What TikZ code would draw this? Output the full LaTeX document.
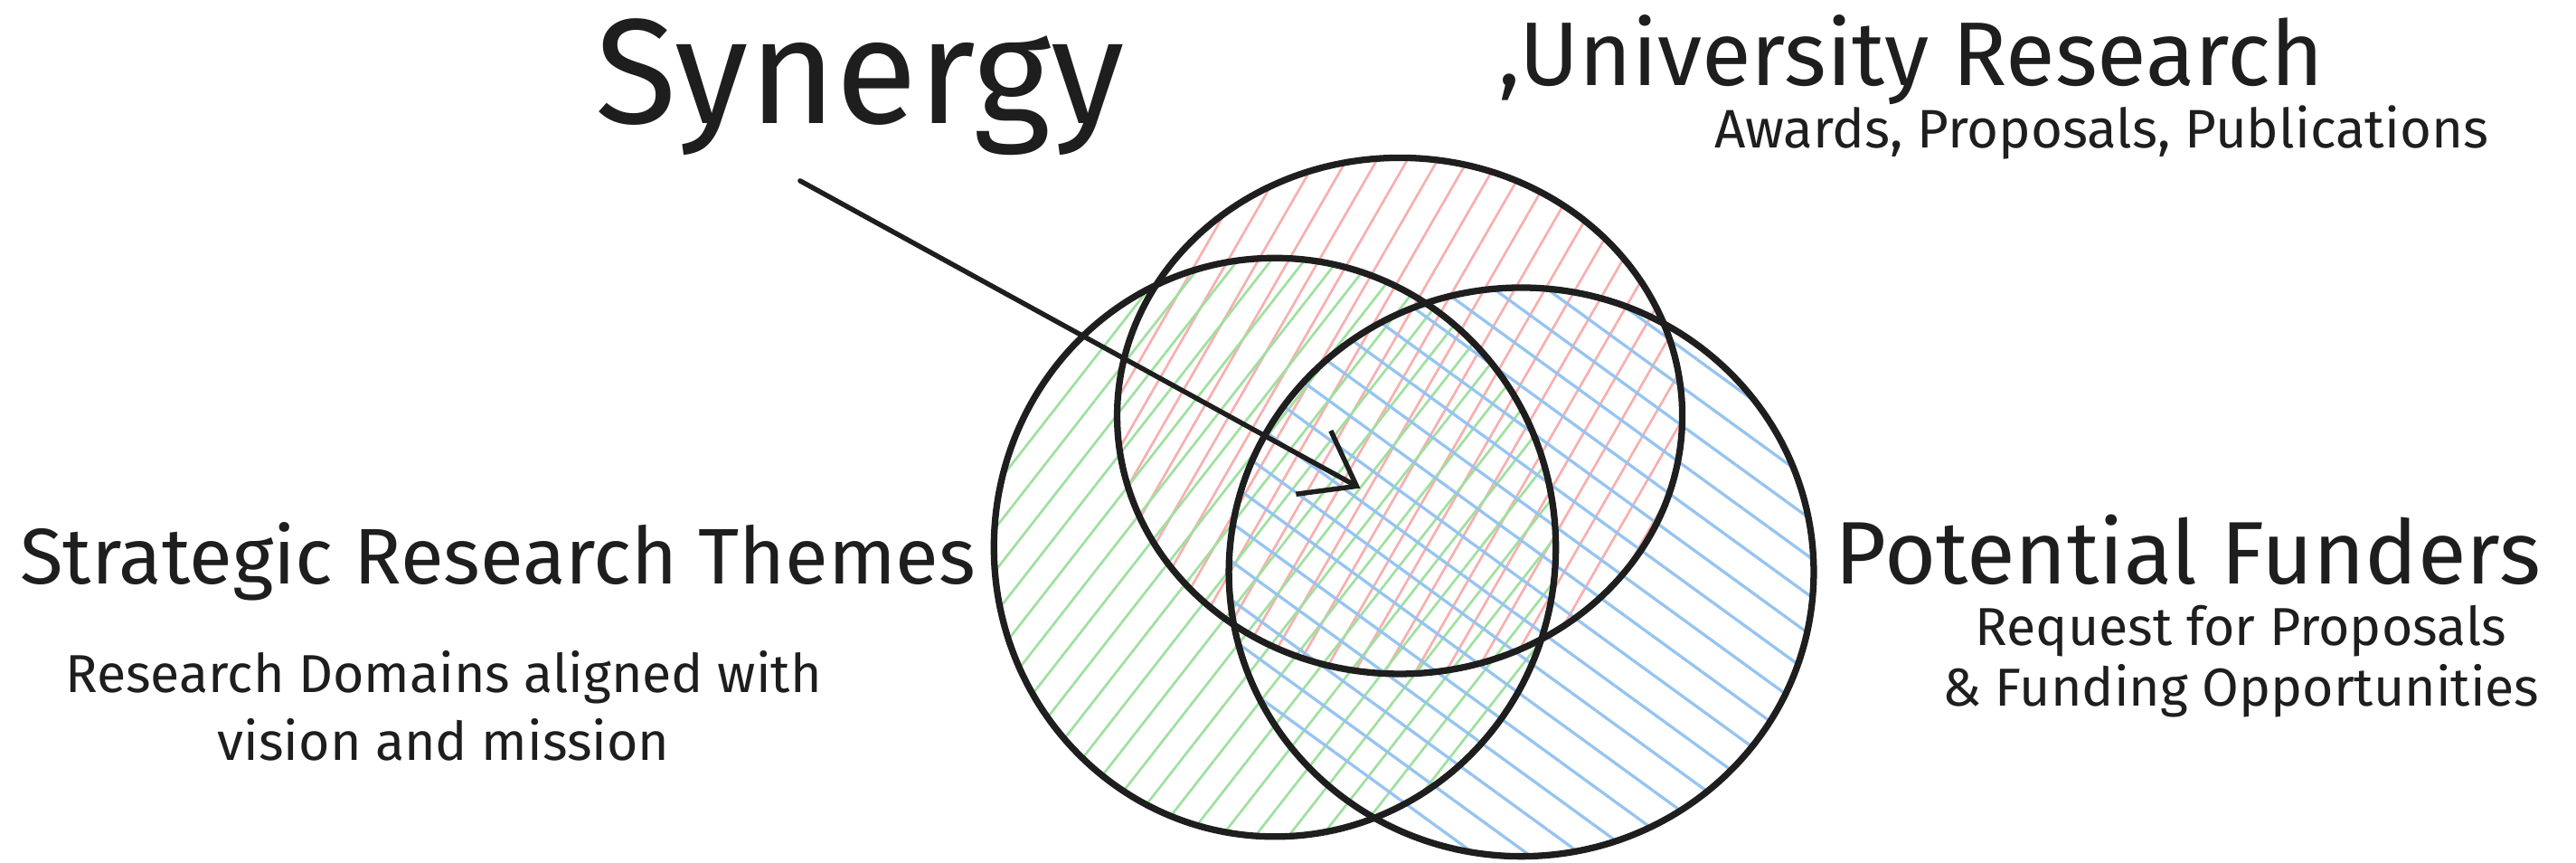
\documentclass[tikz,border=0pt]{standalone}
\usepackage{fontspec}
\setmainfont{Fira Sans}
\usetikzlibrary{arrows.meta,patterns.meta}
\definecolor{ink}{RGB}{30,30,30}
\definecolor{hatchred}{RGB}{246,176,176}
\definecolor{hatchgreen}{RGB}{160,224,160}
\definecolor{hatchblue}{RGB}{150,196,240}

\begin{document}
\begin{tikzpicture}[x=1pt,y=1pt,
  outline/.style={draw=ink,line width=4pt},
  heading/.style={inner sep=0pt,text=ink,font=\fontsize{48}{56}\selectfont},
  caption/.style={inner sep=0pt,text=ink,align=center,font=\fontsize{33}{38}\selectfont}]
  \useasboundingbox (0,0) rectangle (1568,525);

  % hatching of the three sets
  \fill[pattern={Lines[angle=60,distance=16pt,line width=1.5pt]},pattern color=hatchred]
    (852,272) ellipse [x radius=172,y radius=157];
  \fill[pattern={Lines[angle=52,distance=16pt,line width=1.5pt]},pattern color=hatchgreen]
    (776,192) ellipse [x radius=171,y radius=176];
  \fill[pattern={Lines[angle=-36,distance=19pt,line width=1.8pt]},pattern color=hatchblue]
    (926,177) ellipse [x radius=178,y radius=173];

  % outlines
  \draw[outline] (852,272) ellipse [x radius=172,y radius=157];
  \draw[outline] (776,192) ellipse [x radius=171,y radius=176];
  \draw[outline] (926,177) ellipse [x radius=178,y radius=173];

  % labels
  \node[heading,anchor=base west,font=\fontsize{91}{100}\selectfont] (synergy) at (362,450) {Synergy};
  \node[heading,anchor=base west,font=\fontsize{55}{62}\selectfont] (univ) at (912,473) {,University Research};
  \node[caption,anchor=base east] (univsub) at (1515,435) {Awards, Proposals, Publications};
  \node[heading,anchor=base west] (themes) at (12,170) {Strategic Research Themes};
  \node[caption,anchor=north,font=\fontsize{32.5}{41}\selectfont] (themesub) at (270,129) {Research Domains aligned with\\vision and mission};
  \node[heading,anchor=base west,font=\fontsize{54}{62}\selectfont] (funders) at (1117,170) {Potential Funders};
  \node[caption,anchor=north,font=\fontsize{32.5}{37}\selectfont] (fundersub) at (1364,157) {Request for Proposals\\\& Funding Opportunities};

  % arrow into the common core
  \coordinate (arrowstart) at (487,415);
  \coordinate (core) at (828,228);
  \draw[ink,line width=3pt,line cap=round,-{Straight Barb[length=30pt,width=44pt,line width=3pt]}]
    (arrowstart) -- (core);
\end{tikzpicture}
\end{document}
